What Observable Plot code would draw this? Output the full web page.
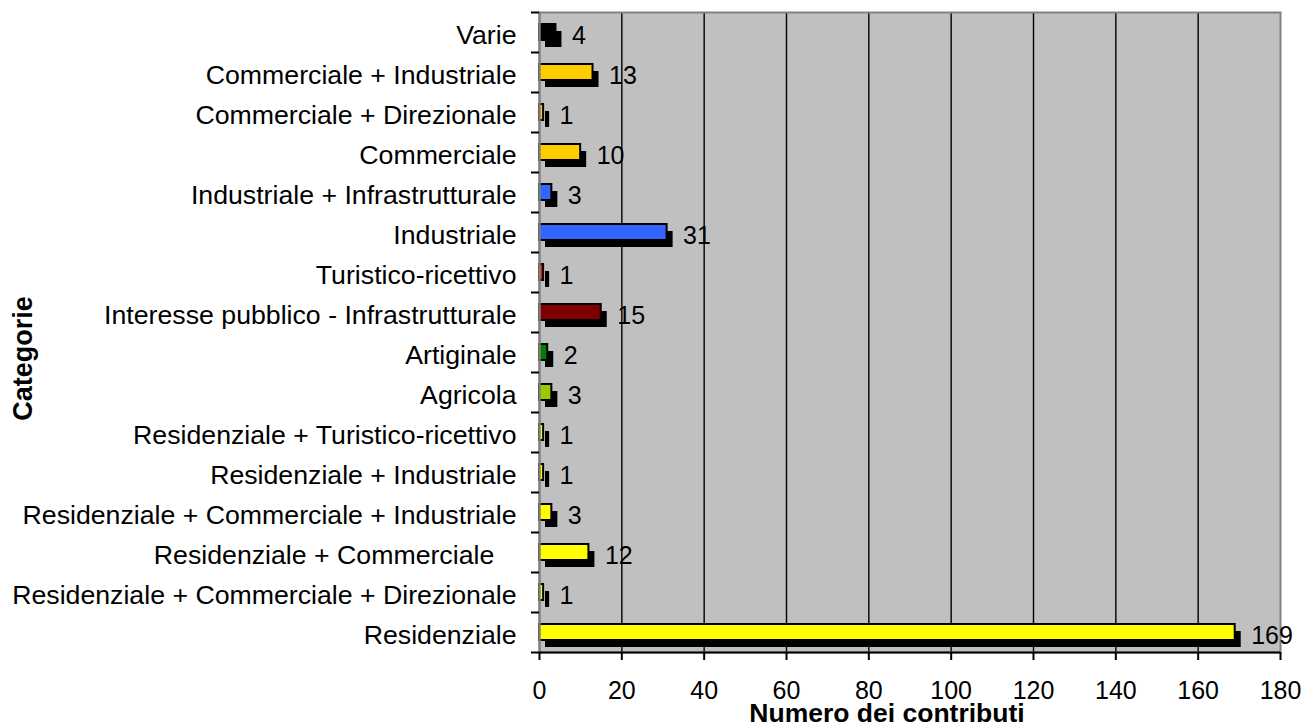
<!DOCTYPE html>
<html>
<head>
<meta charset="utf-8">
<script src="https://cdn.jsdelivr.net/npm/d3@7"></script>
<script src="https://cdn.jsdelivr.net/npm/@observablehq/plot@0.6"></script>
<style>
  html, body { margin: 0; padding: 0; background: #fff; }
  #chart svg { display: block; }
</style>
</head>
<body>
<div id="chart"></div>
<script>
const categories = [
  "Varie",
  "Commerciale + Industriale",
  "Commerciale + Direzionale",
  "Commerciale",
  "Industriale + Infrastrutturale",
  "Industriale",
  "Turistico-ricettivo",
  "Interesse pubblico - Infrastrutturale",
  "Artiginale",
  "Agricola",
  "Residenziale + Turistico-ricettivo",
  "Residenziale + Industriale",
  "Residenziale + Commerciale + Industriale",
  "Residenziale + Commerciale\u00A0\u00A0\u00A0",
  "Residenziale + Commerciale + Direzionale",
  "Residenziale"
];
const values = [4, 13, 1, 10, 3, 31, 1, 15, 2, 3, 1, 1, 3, 12, 1, 169];
const colors = [
  "#000000", "#FFCC00", "#FFCC00", "#FFCC00", "#3366FF", "#3366FF",
  "#FF0000", "#800000", "#008000", "#99CC00", "#FFFF00", "#FFFF00",
  "#FFFF00", "#FFFF00", "#FFFF00", "#FFFF00"
];
const xTicks = [0, 20, 40, 60, 80, 100, 120, 140, 160, 180];
const gridLines = [20, 40, 60, 80, 100, 120, 140, 160];
const xTitle = "Numero dei contributi";
const yTitle = "Categorie";

const data = categories.map((c, i) => ({cat: c, value: values[i], color: colors[i]}));
const last = categories[categories.length - 1];

const chart = Plot.plot({
  width: 1303,
  height: 724,
  marginLeft: 539,
  marginRight: 23,
  marginTop: 12,
  marginBottom: 72,
  style: {background: "#ffffff", fontFamily: "'Liberation Sans', Arial, sans-serif", color: "#000"},
  x: {domain: [0, 180]},
  y: {domain: categories, paddingInner: 0.6, paddingOuter: 0.3},
  color: {type: "identity"},
  marks: [
    Plot.frame({fill: "#c0c0c0"}),
    Plot.ruleX(gridLines, {stroke: "#000", strokeWidth: 1.4}),
    Plot.barX(data, {x: "value", y: "cat", fill: "#000", dx: 6, dy: 7}),
    Plot.barX(data, {x: "value", y: "cat", fill: "color", stroke: "#000", strokeWidth: 2}),
    Plot.frame({stroke: "#808080", strokeWidth: 2}),
    Plot.ruleX([0], {stroke: "#808080", strokeWidth: 2}),
    Plot.ruleY([last], {y: d => d, x1: 0, x2: 180, dy: 20, stroke: "#000", strokeWidth: 2}),
    Plot.ruleY(categories, {y: d => d, x1: -1.95, x2: 0, dy: -20, stroke: "#000", strokeWidth: 2}),
    Plot.ruleY([last], {y: d => d, x1: -1.95, x2: 0, dy: 20, stroke: "#000", strokeWidth: 2}),
    Plot.text(data, {x: "value", y: "cat", text: d => String(d.value), textAnchor: "start", dx: 16, dy: 3, fontSize: 25, fill: "#000"}),
    Plot.axisX({ticks: xTicks, tickSize: 8, tickPadding: 21, fontSize: 25, strokeWidth: 2, label: null, tickFormat: d => String(d)}),
    Plot.axisY({tickSize: 0, tickPadding: 23, fontSize: 26.7, dy: 3, label: null}),
    Plot.text([xTitle], {frameAnchor: "bottom", lineAnchor: "middle", textAnchor: "middle", dx: -23, dy: 61, fontSize: 26.5, fontWeight: "bold", fill: "#000"}),
    Plot.text([yTitle], {frameAnchor: "left", textAnchor: "middle", lineAnchor: "middle", rotate: -90, dx: -516, dy: 26, fontSize: 27, fontWeight: "bold", fill: "#000"})
  ]
});
document.getElementById("chart").appendChild(chart);
</script>
</body>
</html>
